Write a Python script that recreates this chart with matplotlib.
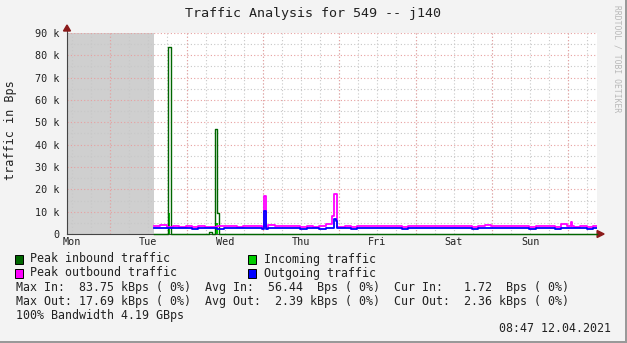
import numpy as np
import matplotlib.pyplot as plt

W, H = 627, 343
PX_PER_H = 3.1806          # pixels per hour on the time axis
T_END = 166.6              # hours shown in the graph

# time of first sample and bin width (hours from left edge of graph)
t_start = 27.3
dt = 2.0

# outgoing traffic, kBps (2 h bins)
out_avg = [2.8, 2.6, 2.7, 2.5, 2.7, 2.6, 2.2, 2.7, 2.5, 2.6, 2.2,
           2.6, 2.7, 2.6, 2.5, 2.7, 2.6, 2.2, 2.6, 2.7, 2.6, 2.5,
           2.6, 2.4, 2.6, 2.7, 2.2, 2.6, 2.5, 2.7, 2.6, 2.3, 2.6, 2.5,
           2.6, 2.7, 2.5, 2.6, 2.6, 2.4, 2.7, 2.6, 2.6, 2.5, 2.7, 2.6,
           2.6, 2.5, 2.7, 2.6, 2.3, 2.6, 2.7, 2.6, 2.5, 2.6, 2.6, 2.7,
           2.6, 2.2, 2.6, 2.5, 2.6, 2.2, 2.6, 2.7, 2.5, 2.6, 2.3, 2.6]
out_peak = [3.6, 3.9, 3.3, 3.5, 3.2, 3.4, 3.3, 3.6, 3.3, 3.2, 3.5,
            3.4, 3.7, 3.3, 3.5, 3.4, 3.6, 3.3, 3.9, 3.4, 3.5, 3.8,
            3.4, 3.3, 3.6, 3.3, 3.5, 4.5, 3.3, 3.2, 3.5, 3.2, 3.4, 3.6,
            3.5, 3.8, 3.4, 3.5, 3.7, 3.3, 3.6, 3.5, 3.4, 3.7, 3.5, 3.4,
            3.6, 3.4, 3.8, 3.5, 3.3, 3.6, 3.9, 3.5, 3.4, 3.6, 3.5, 3.8,
            3.5, 3.3, 3.6, 3.4, 3.5, 3.3, 4.5, 3.6, 3.2, 3.5, 3.3, 3.8]
# incoming traffic, kBps (2 h bins) - almost nothing
in_avg = [0.05, 0.06, 0.05, 0.04, 0.06, 0.05, 0.05, 0.06, 0.05, 0.05, 0.04,
          0.05, 0.06, 0.05, 0.05, 0.04, 0.06, 0.05, 0.05, 0.06, 0.05, 0.05,
          0.05, 0.06, 0.05, 0.04, 0.05, 0.06, 0.05, 0.05, 0.06, 0.05, 0.05, 0.04,
          0.05, 0.06, 0.05, 0.05, 0.04, 0.06, 0.05, 0.05, 0.06, 0.05, 0.05, 0.04,
          0.05, 0.06, 0.05, 0.05, 0.06, 0.05, 0.04, 0.05, 0.06, 0.05, 0.05, 0.05,
          0.05, 0.06, 0.05, 0.04, 0.05, 0.06, 0.05, 0.05, 0.06, 0.05, 0.05, 0.05]
in_peak = [0.1, 0.2, 0.1, 0.1, 0.2, 0.1, 0.1, 0.2, 0.1, 0.1, 0.1,
           0.1, 0.2, 0.1, 0.1, 0.1, 0.2, 0.1, 0.1, 0.2, 0.1, 0.1,
           0.1, 0.2, 0.1, 0.1, 0.1, 0.2, 0.1, 0.1, 0.2, 0.1, 0.1, 0.1,
           0.1, 0.2, 0.1, 0.1, 0.1, 0.2, 0.1, 0.1, 0.2, 0.1, 0.1, 0.1,
           0.1, 0.2, 0.1, 0.1, 0.2, 0.1, 0.1, 0.1, 0.2, 0.1, 0.1, 0.1,
           0.1, 0.2, 0.1, 0.1, 0.1, 0.2, 0.1, 0.1, 0.2, 0.1, 0.1, 0.1]

# short spikes: (from h, to h, kBps)
peak_in_spikes = [(31.7, 32.6, 83.75), (44.6, 45.5, 0.9), (46.6, 47.1, 47.0), (47.1, 47.9, 9.4)]
avg_in_spikes = [(31.8, 32.5, 9.4), (46.6, 47.6, 4.8)]
peak_out_spikes = [(61.9, 62.5, 17.0), (83.3, 83.9, 8.0), (83.9, 85.0, 17.69), (158.3, 158.8, 5.5)]
avg_out_spikes = [(61.9, 62.5, 10.3), (83.9, 84.5, 6.6), (84.5, 85.0, 5.8)]

day_names = ['Mon', 'Tue', 'Wed', 'Thu', 'Fri', 'Sat', 'Sun']
day_pos = [1.57 + 24 * i for i in range(7)]
y_ticks = [0, 10000, 20000, 30000, 40000, 50000, 60000, 70000, 80000, 90000]
y_labels = ['0', '10 k', '20 k', '30 k', '40 k', '50 k', '60 k', '70 k', '80 k', '90 k']
unknown_end = 27.3


def steps(base, spikes):
    edges = [t_start + dt * i for i in range(len(base) + 1)]
    pts = sorted(set(edges + [s for a, b, v in spikes for s in (a, b)]))
    pts = [p for p in pts if p < T_END] + [T_END]
    vals = []
    for a, b in zip(pts[:-1], pts[1:]):
        m = (a + b) / 2
        v = base[min(int((m - t_start) // dt), len(base) - 1)]
        for s0, s1, sv in spikes:
            if s0 <= m < s1:
                v = sv
        vals.append(v * 1000)
    vals.append(vals[-1])
    return np.array(pts), np.array(vals)


def pxd(x, y):
    # figure pixel -> data coords
    return (x - 67) / PX_PER_H, (234 - y) * 90000 / 201


plt.rcParams['font.family'] = 'DejaVu Sans Mono'
fig = plt.figure(figsize=(W / 100, H / 100), dpi=100, facecolor='#f3f3f3')
ax = fig.add_axes([67 / W, (H - 234) / H, 530 / W, 201 / H])
ax.set_xlim(0, T_END)
ax.set_ylim(0, 90000)
for s in ax.spines.values():
    s.set_visible(False)

ax.axvspan(0, unknown_end, color='#cfcfcf', lw=0, zorder=0.5)

# grid
for h in np.arange(1.57, T_END, 6):
    ax.axvline(h, color='#c8c8c8', lw=0.8, ls=(0, (1, 2)), zorder=1)
for v in range(5000, 90001, 10000):
    ax.axhline(v, color='#c8c8c8', lw=0.8, ls=(0, (1, 2)), zorder=1)
for h in np.arange(13.57, T_END, 24):
    ax.axvline(h, color='#e8a0a0', lw=0.8, ls=(0, (1, 2)), zorder=1.1)
for v in range(10000, 90001, 10000):
    ax.axhline(v, color='#e8a0a0', lw=0.8, ls=(0, (1, 2)), zorder=1.1)

# axes with arrows
ax.plot([0, T_END], [0, 0], color='#444444', lw=0.8, clip_on=False, zorder=2)
ax.plot([0, 0], [0, pxd(67, 28)[1]], color='#444444', lw=0.8, clip_on=False, zorder=2)
ax.fill(*zip(pxd(63.5, 31), pxd(70.5, 31), pxd(67, 25)), color='#8b1a1a', clip_on=False, zorder=2)
ax.fill(*zip(pxd(597, 230.5), pxd(597, 237.5), pxd(604, 234)), color='#8b1a1a', clip_on=False, zorder=2)

# data
t, v = steps(in_avg, avg_in_spikes)
ax.fill_between(t, v, step='post', color='#00cc00', lw=0, zorder=3)
t, v = steps(in_peak, peak_in_spikes)
ax.plot(t, v, drawstyle='steps-post', color='#006600', lw=1.0, clip_on=False, zorder=4)
t, v = steps(out_peak, peak_out_spikes)
ax.plot(t, v, drawstyle='steps-post', color='#ff00ff', lw=1.3, zorder=5)
t, v = steps(out_avg, avg_out_spikes)
ax.plot(t, v, drawstyle='steps-post', color='#0000ff', lw=1.3, zorder=6)

ax.set_xticks(day_pos, day_names)
ax.set_yticks(y_ticks, y_labels)
ax.tick_params(axis='x', length=0, pad=2.5, labelsize=7.3, colors='#222222')
ax.tick_params(axis='y', length=0, pad=5.5, labelsize=7.3, colors='#222222')
ax.set_facecolor('white')


def ftext(x, y, s, **kw):
    fig.text(x / W, 1 - y / H, s, va='center', **kw)


ftext(313, 13, 'Traffic Analysis for 549 -- j140', ha='center', fontsize=9.6, color='#222222')
ftext(11, 130, 'traffic in Bps', ha='center', rotation=90, fontsize=8.5, color='#222222')
ftext(617, 59, 'RRDTOOL / TOBI OETIKER', ha='center', rotation=-90, fontsize=5.8, color='#b8b8b8')

legend = [('Peak inbound traffic', '#006600', 15, 259), ('Incoming traffic', '#00cc00', 248, 259),
          ('Peak outbound traffic', '#ff00ff', 15, 273), ('Outgoing traffic', '#0000ff', 248, 273)]
for label, col, x, y in legend:
    fig.add_artist(plt.Rectangle((x / W, 1 - (y + 4.5) / H), 8 / W, 9 / H,
                                 facecolor=col, edgecolor='black', lw=0.7))
    ftext(x + 15.5, y, label, ha='left', fontsize=8.37, color='#222222')

ftext(16, 287, 'Max In:  83.75 kBps ( 0%)  Avg In:  56.44  Bps ( 0%)  Cur In:   1.72  Bps ( 0%)',
      ha='left', fontsize=8.37, color='#222222')
ftext(16, 301, 'Max Out: 17.69 kBps ( 0%)  Avg Out:  2.39 kBps ( 0%)  Cur Out:  2.36 kBps ( 0%)',
      ha='left', fontsize=8.37, color='#222222')
ftext(16, 315, '100% Bandwidth 4.19 GBps', ha='left', fontsize=8.37, color='#222222')
ftext(611, 329, '08:47 12.04.2021', ha='right', fontsize=8.37, color='#222222')

# frame shading
fig.add_artist(plt.Rectangle((625 / W, 0), 2 / W, 1, color='#999999', lw=0))
fig.add_artist(plt.Rectangle((0, 0), 1, 2.5 / H, color='#999999', lw=0))

fig.savefig('out.png', dpi=100, facecolor=fig.get_facecolor())
